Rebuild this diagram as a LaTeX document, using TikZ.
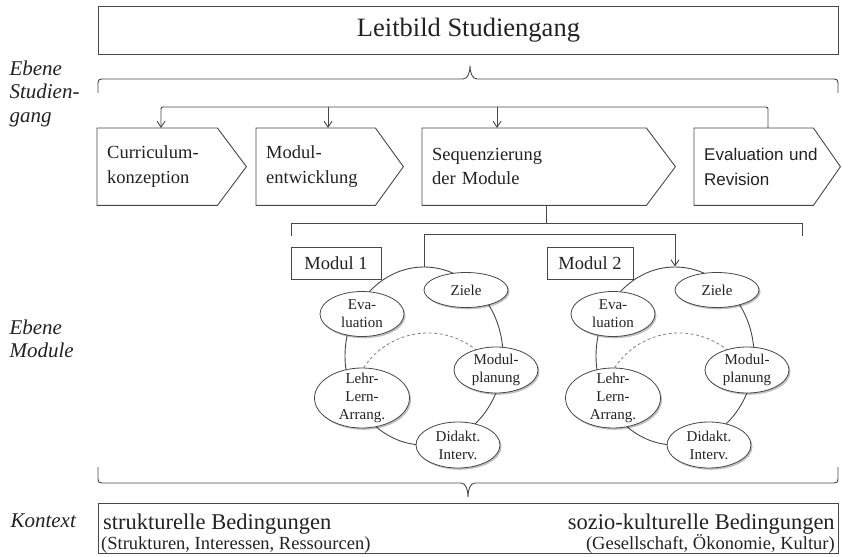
\documentclass[tikz,border=0pt]{standalone}
\usepackage{fontspec}
\setmainfont{Liberation Serif}
\newfontfamily\arialfont{Liberation Sans}
\usetikzlibrary{arrows.meta,shapes.geometric,shadows,calc}

\definecolor{ink}{HTML}{222222}
\definecolor{edge}{HTML}{474747}
\definecolor{dashgray}{HTML}{808080}

\tikzset{
  line/.style={draw=edge, line width=0.9pt},
  arr/.style={line, -{Straight Barb[length=6pt,width=8pt]}},
  plainbox/.style={rectangle, draw=edge, line width=0.9pt, inner sep=0pt, text=ink},
  stage/.style={rectangle, inner xsep=10pt, inner ysep=0pt, minimum height=77pt,
    text width=#1, align=left, anchor=north west, text=ink,
    font=\fontsize{18.5}{24.5}\selectfont},
  phase/.style={ellipse, draw=edge, line width=0.8pt, fill=white, inner sep=-20pt,
    align=center, text=ink, font=\fontsize{15}{18}\selectfont,
    drop shadow={shadow xshift=1.5pt, shadow yshift=-1.8pt, fill=black, opacity=0.25}},
  cycle ring/.style={ellipse, draw=edge, line width=0.9pt, inner sep=0pt},
  level/.style={align=left, anchor=north west, text=ink, font=\itshape\fontsize{21}{23.5}\selectfont},
  ctxmain/.style={inner sep=0pt, text=ink, font=\fontsize{22.5}{26}\selectfont},
  ctxsub/.style={inner sep=0pt, text=ink, font=\fontsize{18.5}{20}\selectfont},
}

% pentagon outline around a stage node
\newcommand\stageoutline[2]{%
  \draw[line] (#1.north west) -- (#1.north east) -- ($(#1.east)+(#2,0)$)
    -- (#1.south east) -- (#1.south west) -- cycle;}

\begin{document}
\begin{tikzpicture}[x=1pt,y=-1pt]
\useasboundingbox (0,0) rectangle (842,556);

% level labels
\node[level] (lvStudiengang) at (6,57) {Ebene\\Studien-\\gang};
\node[level] (lvModule) at (6,316) {Ebene\\Module};
\node[level, anchor=west] (lvKontext) at (7,521) {Kontext};

% mission statement
\node[plainbox, minimum width=740pt, minimum height=48pt, anchor=north west,
      font=\fontsize{26.5}{30}\selectfont] (leit) at (98,6) {Leitbild Studiengang};

% upper brace
\draw[line] (98,93) -- (98,83) .. controls (98,80) and (99,79) .. (102,79)
  -- (463,79) .. controls (468,79) and (470,72) .. (470,66)
  .. controls (470,72) and (472,79) .. (477,79)
  -- (834,79) .. controls (837,79) and (838,80) .. (838,83) -- (838,93);

% stages
\node[stage=100pt] (cur) at (97,128) {Curriculum-\\konzeption};
\node[stage=99pt]  (mod) at (256,128) {Modul-\\entwicklung\\[-5pt]};
\node[stage=204pt] (seq) at (422,128) {Sequenzierung\\der Module};
\node[stage=99pt, font=\arialfont\fontsize{17}{24.5}\selectfont] (eva) at (694,128) {Evaluation~und\\Revision};
\stageoutline{cur}{29}
\stageoutline{mod}{28}
\stageoutline{seq}{29}
\stageoutline{eva}{27}

% distribution to the stages
\coordinate (curIn) at ($(cur.north west)+(64,0)$);
\coordinate (modIn) at ($(mod.north west)+(72,0)$);
\coordinate (seqIn) at ($(seq.north west)+(75,0)$);
\coordinate (evaIn) at ($(eva.north west)+(74,0)$);
\draw[arr, rounded corners=2pt] (evaIn) |- ($(curIn)+(0,-21)$) -- (curIn);
\draw[arr] ($(modIn)+(0,-21)$) -- (modIn);
\draw[arr] ($(seqIn)+(0,-21)$) -- (seqIn);

% bracket below the sequencing stage
\coordinate (seqOut) at ($(seq.south west)+(124,0)$);
\coordinate (brL) at (291,236);
\coordinate (brR) at (802,236);
\draw[line] (seqOut) -- ++(0,18);
\draw[line] (brL) -- ++(0,-13) -- ($(brR)+(0,-13)$) -- (brR);

% module labels
\node[plainbox, minimum width=90pt, minimum height=32pt, font=\fontsize{18.5}{22}\selectfont] (m1) at (336,263) {Modul 1};
\node[plainbox, minimum width=86pt, minimum height=32pt, font=\fontsize{18.5}{22}\selectfont] (m2) at (590,263) {Modul 2};

% module cycles
\foreach \m/\dx in {1/0,2/251}{
  \begin{scope}[xshift=\dx pt]
    \node[cycle ring, minimum width=158pt, minimum height=178pt] (cyc\m) at (424,356) {};
    \draw[dashgray, line width=0.8pt, dash pattern=on 3pt off 2.5pt]
      (428,410) ++(205:77) arc[start angle=205, end angle=330, radius=77];
    \node[phase, minimum width=84pt, minimum height=35pt] (ziele\m) at (466,290) {Ziele};
    \node[phase, minimum width=84pt, minimum height=45pt] (evalu\m) at (362,314) {Eva-\\luation};
    \node[phase, minimum width=84pt, minimum height=46pt] (plan\m) at (496,370) {Modul-\\planung};
    \node[phase, minimum width=95pt, minimum height=60pt] (lehr\m) at (362,398) {Lehr-\\Lern-\\Arrang.};
    \node[phase, minimum width=84pt, minimum height=46pt] (didakt\m) at (458,445) {Didakt.\\Interv.};
  \end{scope}
}

% link between the two modules
\draw[arr] (cyc1.north) -- ++(0,-32) -| (cyc2.north);

% lower brace
\draw[line] (98,467) -- (98,479) .. controls (98,482) and (99,483) .. (102,483)
  -- (461,483) .. controls (466,483) and (468,490) .. (468,497)
  .. controls (468,490) and (470,483) .. (475,483)
  -- (834,483) .. controls (837,483) and (838,482) .. (838,479) -- (838,467);

% context box
\node[plainbox, minimum width=740pt, minimum height=50pt, anchor=north west] (ctx) at (98,503) {};
\node[ctxmain, anchor=base west] (struk) at ($(ctx.north west)+(5,26)$) {strukturelle Bedingungen};
\node[ctxsub, anchor=base west] (strukSub) at ($(ctx.north west)+(3,46)$) {(Strukturen, Interessen, Ressourcen)};
\node[ctxmain, anchor=base east] (sozio) at ($(ctx.north east)+(-4,26)$) {sozio-kulturelle Bedingungen};
\node[ctxsub, anchor=base east] (sozioSub) at ($(ctx.north east)+(-4,46)$) {(Gesellschaft, Ökonomie, Kultur)};

\end{tikzpicture}
\end{document}
